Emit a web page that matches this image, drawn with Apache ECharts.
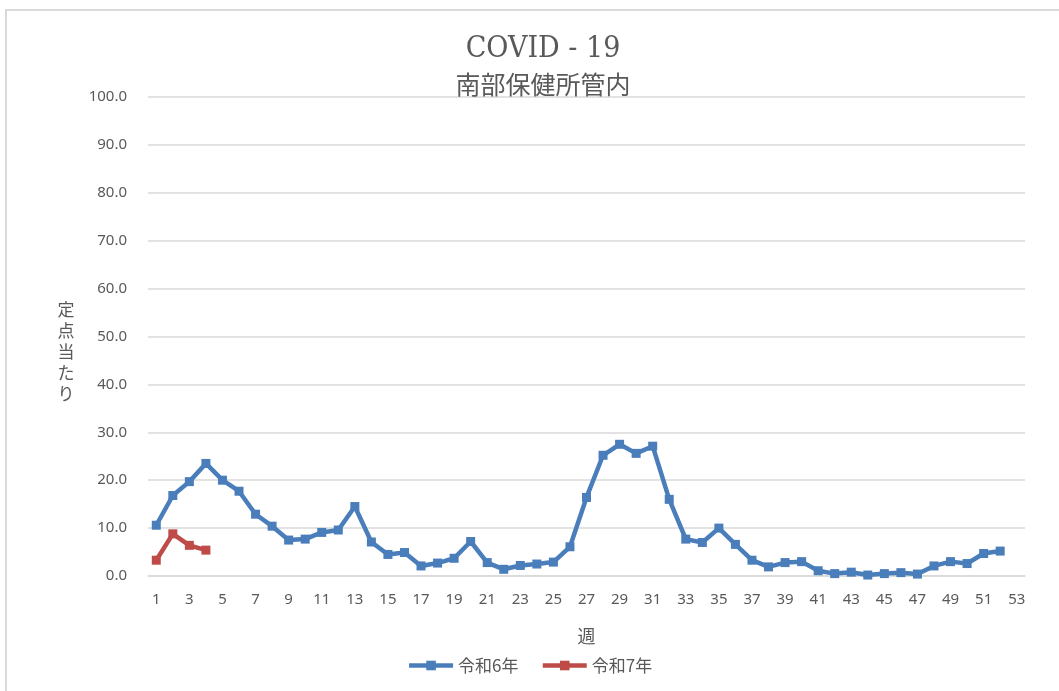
<!DOCTYPE html>
<html>
<head>
<meta charset="utf-8">
<script src="https://cdn.jsdelivr.net/npm/echarts@6/dist/echarts.min.js"></script>
<style>
html, body { margin: 0; padding: 0; background: #fff; }
#main { width: 1059px; height: 691px; }
</style>
</head>
<body>
<div id="main"></div>
<script>
// 週
var weeks = [];
for (var w = 1; w <= 53; w++) {
	weeks.push(String(w));
}
var seriesNames = ['令和6年', '令和7年'];
// 定点当たり
var r6 = [10.6, 16.8, 19.7, 23.5, 20.0, 17.7, 12.9, 10.4, 7.5, 7.7,
	9.1, 9.6, 14.5, 7.1, 4.5, 4.9, 2.1, 2.7, 3.7, 7.2,
	2.8, 1.4, 2.2, 2.5, 2.9, 6.1, 16.4, 25.2, 27.5, 25.6,
	27.1, 16.0, 7.7, 7.0, 10.0, 6.6, 3.3, 1.9, 2.8, 3.0,
	1.1, 0.5, 0.8, 0.2, 0.5, 0.7, 0.4, 2.1, 3.0, 2.6,
	4.7, 5.2];
var r7 = [3.3, 8.8, 6.4, 5.4];
var colors = ['#4a7ebb', '#be4b48'];

var myChart = echarts.init(document.getElementById('main'));
var textColor = '#595959';
var series = [r6, r7].map(function(d, i) {
	return {
		name: seriesNames[i],
		type: 'line',
		data: d,
		symbol: 'rect',
		symbolSize: 9,
		lineStyle: { width: 4.5, color: colors[i] },
		itemStyle: { color: colors[i] }
	};
});

var option = {
	animation: false,
	backgroundColor: '#fff',
	title: [{
		text: 'COVID - 19',
		left: 538,
		top: 29,
		textAlign: 'center',
		textStyle: { fontFamily: '"DejaVu Serif Condensed", "Liberation Serif", serif', fontSize: 30, fontWeight: 'normal', color: textColor }
	}, {
		text: '南部保健所管内',
		left: 538,
		top: 67,
		textAlign: 'center',
		textStyle: { fontFamily: 'Noto Sans CJK JP', fontSize: 25, fontWeight: 'normal', color: textColor }
	}],
	graphic: [{
		type: 'rect',
		shape: { x: 6, y: 10, width: 1100, height: 720 },
		style: { fill: 'none', stroke: '#d9d9d9', lineWidth: 2 },
		silent: true
	}, {
		// 縦書きの軸名
		type: 'text',
		x: 66,
		y: 352,
		style: {
			text: '定\n点\n当\nた\nり',
			fontFamily: 'Noto Sans CJK JP',
			fontSize: 17,
			lineHeight: 21,
			fill: textColor,
			align: 'center',
			verticalAlign: 'middle'
		},
		silent: true
	}],
	legend: {
		data: seriesNames,
		left: 'center',
		top: 652,
		itemWidth: 44,
		itemHeight: 12,
		itemGap: 22,
		lineStyle: { width: 4.5 },
		textStyle: { fontFamily: 'Noto Sans CJK JP', fontSize: 17, color: textColor }
	},
	grid: { left: 148, top: 97, width: 877, height: 479 },
	xAxis: {
		type: 'category',
		data: weeks,
		name: '週',
		nameLocation: 'middle',
		nameGap: 51,
		nameTextStyle: { fontFamily: 'Noto Sans CJK JP', fontSize: 18, color: textColor },
		axisLine: { lineStyle: { color: '#d9d9d9', width: 1.5 } },
		axisTick: { show: false },
		axisLabel: { interval: 1, fontFamily: 'Noto Sans', fontSize: 15, color: textColor, margin: 16 }
	},
	yAxis: {
		type: 'value',
		min: 0,
		max: 100,
		interval: 10,
		axisLine: { show: false },
		axisTick: { show: false },
		splitLine: { lineStyle: { color: '#d9d9d9', width: 1.5 } },
		axisLabel: {
			fontFamily: 'Noto Sans', fontSize: 15, color: textColor, margin: 21,
			formatter: function(v) { return v.toFixed(1); }
		}
	},
	series: series
};
myChart.setOption(option, true);
</script>
</body>
</html>
